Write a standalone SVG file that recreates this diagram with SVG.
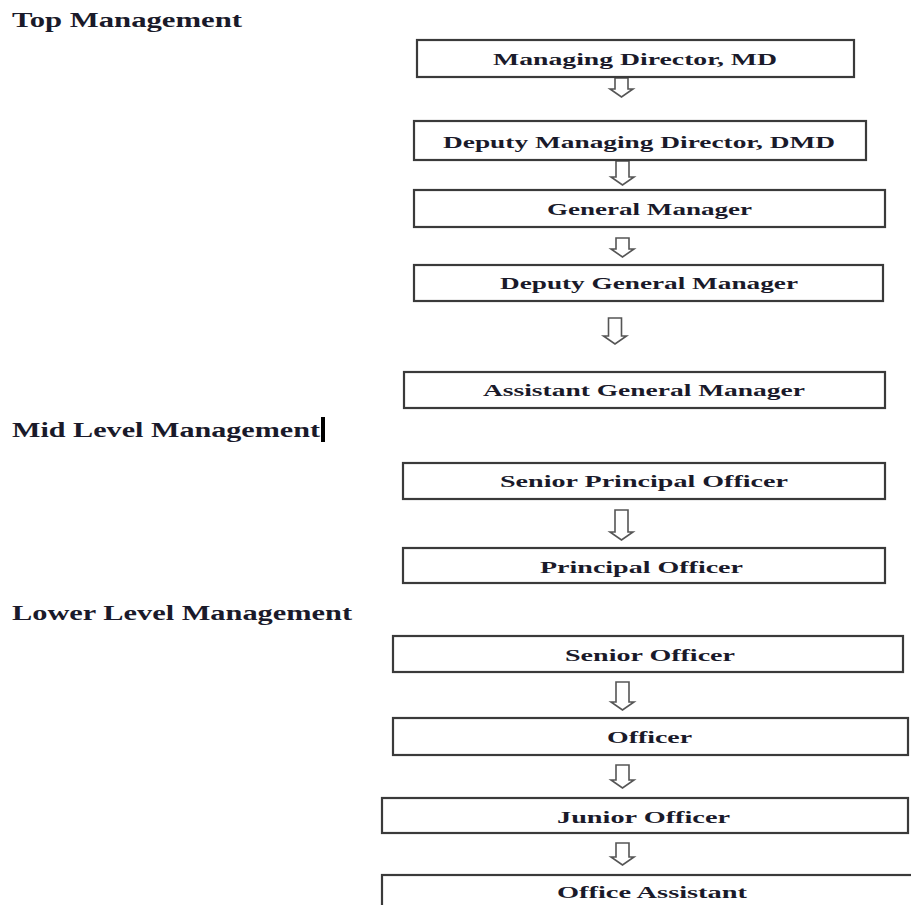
<svg xmlns="http://www.w3.org/2000/svg" width="911" height="905" viewBox="0 0 911 905">
<style>
.bg{fill:#fff}
.box{fill:#fff;stroke:#3a3a3a;stroke-width:2.2}
.lbl{font-family:"Liberation Serif","Times New Roman",serif;font-weight:bold;font-size:17px;fill:#1a1a2a;text-anchor:start}
.hdr{font-family:"Liberation Serif","Times New Roman",serif;font-weight:bold;font-size:20px;fill:#1a1a2a}
.arr{fill:#fff;stroke:#555;stroke-width:1.6;stroke-linejoin:miter}
</style>
<rect class="bg" x="0" y="0" width="911" height="905"/>
<g id="headers">
<text class="hdr" x="12" y="27" textLength="230" lengthAdjust="spacingAndGlyphs">Top Management</text>
<text class="hdr" x="12" y="437" textLength="308" lengthAdjust="spacingAndGlyphs">Mid Level Management</text>
<rect x="321" y="417" width="4" height="25" fill="#000"/>
<text class="hdr" x="12" y="620" textLength="340" lengthAdjust="spacingAndGlyphs">Lower Level Management</text>
</g>
<g id="connectors">
<path class="arr" d="M615,78 H628 V89 H633 L621.5,97 L610,89 H615 Z"/>
<path class="arr" d="M616,161 H629 V177 H634 L622.5,185 L611,177 H616 Z"/>
<path class="arr" d="M616,238 H629 V249 H634 L622.5,257 L611,249 H616 Z"/>
<path class="arr" d="M608.5,318 H621.5 V336 H626.5 L615,344 L603.5,336 H608.5 Z"/>
<path class="arr" d="M615,510 H628 V532 H633 L621.5,540 L610,532 H615 Z"/>
<path class="arr" d="M616,682 H629 V702 H634 L622.5,710 L611,702 H616 Z"/>
<path class="arr" d="M616,765 H629 V780 H634 L622.5,788 L611,780 H616 Z"/>
<path class="arr" d="M616,843 H629 V857 H634 L622.5,865 L611,857 H616 Z"/>
</g>
<g id="md"><rect class="box" x="417" y="40" width="437" height="37"/><text class="lbl" x="493" y="65" textLength="284" lengthAdjust="spacingAndGlyphs">Managing Director, MD</text></g>
<g id="dmd"><rect class="box" x="414" y="121" width="452" height="39"/><text class="lbl" x="443" y="148" textLength="392" lengthAdjust="spacingAndGlyphs">Deputy Managing Director, DMD</text></g>
<g id="gm"><rect class="box" x="414" y="190" width="471" height="37"/><text class="lbl" x="547" y="215" textLength="205" lengthAdjust="spacingAndGlyphs">General Manager</text></g>
<g id="dgm"><rect class="box" x="414" y="265" width="469" height="36"/><text class="lbl" x="500" y="289" textLength="298" lengthAdjust="spacingAndGlyphs">Deputy General Manager</text></g>
<g id="agm"><rect class="box" x="404" y="372" width="481" height="36"/><text class="lbl" x="483" y="396" textLength="322" lengthAdjust="spacingAndGlyphs">Assistant General Manager</text></g>
<g id="spo"><rect class="box" x="403" y="463" width="482" height="36"/><text class="lbl" x="500" y="487" textLength="288" lengthAdjust="spacingAndGlyphs">Senior Principal Officer</text></g>
<g id="po"><rect class="box" x="403" y="548" width="482" height="35"/><text class="lbl" x="540" y="573" textLength="203" lengthAdjust="spacingAndGlyphs">Principal Officer</text></g>
<g id="so"><rect class="box" x="393" y="636" width="510" height="36"/><text class="lbl" x="565" y="661" textLength="170" lengthAdjust="spacingAndGlyphs">Senior Officer</text></g>
<g id="officer"><rect class="box" x="393" y="718" width="515" height="37"/><text class="lbl" x="607" y="743" textLength="85" lengthAdjust="spacingAndGlyphs">Officer</text></g>
<g id="jo"><rect class="box" x="382" y="798" width="526" height="35"/><text class="lbl" x="557" y="823" textLength="173" lengthAdjust="spacingAndGlyphs">Junior Officer</text></g>
<g id="oa"><rect class="box" x="382" y="875" width="540" height="40"/><text class="lbl" x="557" y="898" textLength="190" lengthAdjust="spacingAndGlyphs">Office Assistant</text></g>
</svg>
